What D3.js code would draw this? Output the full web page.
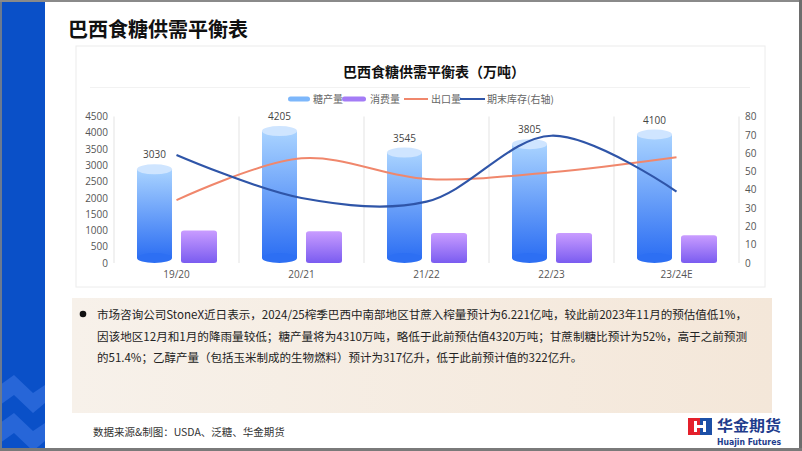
<!DOCTYPE html>
<html><head><meta charset="utf-8">
<script src="https://cdn.jsdelivr.net/npm/d3@7"></script>
<style>
html,body{margin:0;padding:0;background:#fff;}
svg{display:block;font-family:"Noto Sans CJK SC","Noto Sans",sans-serif;}
</style></head>
<body>
<svg id="c" width="802" height="451"></svg>
<script>
// ---- data ----
const categories = ["19/20", "20/21", "21/22", "22/23", "23/24E"];
const production = [3030, 4205, 3545, 3805, 4100];
const consumption = [1000, 975, 920, 920, 850];
const exports_ = [1930, 3215, 2580, 2790, 3250];
const endingStocks = [59, 35.5, 33.5, 69.5, 39];
const leftTicks = [0, 500, 1000, 1500, 2000, 2500, 3000, 3500, 4000, 4500];
const rightTicks = [0, 10, 20, 30, 40, 50, 60, 70, 80];
const seriesNames = ["糖产量", "消费量", "出口量", "期末库存(右轴)"];
const pageTitle = "巴西食糖供需平衡表";
const chartTitle = "巴西食糖供需平衡表（万吨）";
const bodyLines = [
  "市场咨询公司StoneX近日表示，2024/25榨季巴西中南部地区甘蔗入榨量预计为6.221亿吨，较此前2023年11月的预估值低1%，",
  "因该地区12月和1月的降雨量较低；糖产量将为4310万吨，略低于此前预估值4320万吨；甘蔗制糖比预计为52%，高于之前预测",
  "的51.4%；乙醇产量（包括玉米制成的生物燃料）预计为317亿升，低于此前预计值的322亿升。"
];
const sourceText = "数据来源&制图：USDA、泛糖、华金期货";

const svg = d3.select("#c");
const defs = svg.append("defs");

// gradients
const g1 = defs.append("linearGradient").attr("id","gProd").attr("x1",0).attr("y1",0).attr("x2",0).attr("y2",1);
g1.append("stop").attr("offset","0%").attr("stop-color","#a9d3ff");
g1.append("stop").attr("offset","100%").attr("stop-color","#2d6ff3");
const g2 = defs.append("linearGradient").attr("id","gCons").attr("x1",0).attr("y1",0).attr("x2",0).attr("y2",1);
g2.append("stop").attr("offset","0%").attr("stop-color","#c99cff");
g2.append("stop").attr("offset","100%").attr("stop-color","#7a5cf0");
const g3 = defs.append("linearGradient").attr("id","gBox").attr("x1",0).attr("y1",0).attr("x2",1).attr("y2",0);
g3.append("stop").attr("offset","0%").attr("stop-color","#f7f1ea");
g3.append("stop").attr("offset","100%").attr("stop-color","#f4e7d9");

// ---- page frame ----
svg.append("rect").attr("x",0).attr("y",0).attr("width",802).attr("height",451).attr("fill","#fff");
svg.append("rect").attr("x",0).attr("y",0).attr("width",45).attr("height",451).attr("fill","#0a50c8");
// chevrons
const chev = (y0) => `M0,${y0+10} L14,${y0} L33,${y0+18} L45,${y0+10} L45,${y0+28} L33,${y0+38} L14,${y0+20} L0,${y0+30} Z`;
svg.append("path").attr("d",chev(375)).attr("fill","#2766d8");
svg.append("path").attr("d",chev(413)).attr("fill","#2766d8");
svg.append("rect").attr("x",0).attr("y",0).attr("width",2).attr("height",451).attr("fill","#6b7a90");
svg.append("rect").attr("x",0).attr("y",0).attr("width",802).attr("height",2).attr("fill","#8a8a8a");
svg.append("rect").attr("x",799).attr("y",0).attr("width",3).attr("height",451).attr("fill","#6d6d6d");
svg.append("rect").attr("x",0).attr("y",448).attr("width",802).attr("height",3).attr("fill","#7a7a7a");

svg.append("text").attr("x",68).attr("y",37).attr("font-size",20).attr("font-weight","bold").attr("fill","#111").text(pageTitle);

// chart container
svg.append("rect").attr("x",76).attr("y",46).attr("width",689).attr("height",241).attr("fill","#fff").attr("stroke","#ececec").attr("stroke-width",1);

svg.append("text").attr("x",434).attr("y",77).attr("text-anchor","middle").attr("font-size",14).attr("font-weight","bold").attr("fill","#111").text(chartTitle);
svg.append("line").attr("x1",90).attr("x2",750).attr("y1",87.5).attr("y2",87.5).attr("stroke","#f2f2f2");

// ---- scales ----
const x = d3.scaleBand().domain(categories).range([114, 739]).paddingInner(0).paddingOuter(0);
const yL = d3.scaleLinear().domain([0, 4500]).range([263, 116.5]);
const yR = d3.scaleLinear().domain([0, 80]).range([263, 116.5]);
const cx = c => x(c) + x.bandwidth()/2;

// dividers
const gridXs = [x.range()[0]].concat(categories.slice(1).map(c => x(c))).concat([x.range()[1]]);
svg.append("g").selectAll("line").data(gridXs).join("line")
  .attr("x1",d=>d).attr("x2",d=>d).attr("y1",yL(4500)).attr("y2",yL(0))
  .attr("stroke","#e3e3e3").attr("stroke-width",1);

// axes
const axL = svg.append("g").attr("transform","translate(114,0)")
  .call(d3.axisLeft(yL).tickValues(leftTicks).tickFormat(d3.format("d")).tickSize(0).tickPadding(6));
axL.select(".domain").remove();
axL.selectAll("text").attr("font-size",10).attr("fill","#555").attr("font-family","'Open Sans','Noto Sans',sans-serif");
const axR = svg.append("g").attr("transform","translate(739,0)")
  .call(d3.axisRight(yR).tickValues(rightTicks).tickFormat(d3.format("d")).tickSize(0).tickPadding(6));
axR.select(".domain").remove();
axR.selectAll("text").attr("font-size",10).attr("fill","#555").attr("font-family","'Open Sans','Noto Sans',sans-serif");
const axB = svg.append("g").attr("transform","translate(0,263)")
  .call(d3.axisBottom(x).tickSize(0).tickPadding(6));
axB.select(".domain").remove();
axB.selectAll("text").attr("font-size",10).attr("fill","#555").attr("dy","0.9em").attr("font-family","'Open Sans','Noto Sans',sans-serif");

// production cylinders
const pw = 35, ry = 5;
const prod = svg.append("g").selectAll("g").data(categories).join("g");
prod.append("rect")
  .attr("x",(c)=>cx(c)-22-pw/2).attr("width",pw)
  .attr("y",(c,i)=>yL(production[i])+ry).attr("height",(c,i)=>yL(0)-ry-(yL(production[i])+ry))
  .attr("fill","url(#gProd)");
prod.append("ellipse").attr("cx",c=>cx(c)-22).attr("cy",yL(0)-ry).attr("rx",pw/2).attr("ry",ry).attr("fill","#2d6ff3");
prod.append("ellipse").attr("cx",c=>cx(c)-22).attr("cy",(c,i)=>yL(production[i])+ry).attr("rx",pw/2).attr("ry",ry).attr("fill","#cfe5ff");
prod.append("text").attr("x",c=>cx(c)-22).attr("y",(c,i)=>yL(production[i])-6)
  .attr("text-anchor","middle").attr("font-size",10).attr("fill","#444")
  .attr("font-family","'Open Sans','Noto Sans',sans-serif").text((c,i)=>production[i]);

// consumption bars
const cw = 36;
svg.append("g").selectAll("rect").data(categories).join("rect")
  .attr("x",c=>cx(c)+22.5-cw/2).attr("width",cw)
  .attr("y",(c,i)=>yL(consumption[i])).attr("height",(c,i)=>yL(0)-yL(consumption[i]))
  .attr("rx",3).attr("ry",2.5).attr("fill","url(#gCons)");

// lines
const lineL = d3.line().x((d,i)=>cx(categories[i])).y(d=>yL(d)).curve(d3.curveCatmullRom.alpha(0.5));
const lineR = d3.line().x((d,i)=>cx(categories[i])).y(d=>yR(d)).curve(d3.curveCatmullRom.alpha(0.5));
svg.append("path").datum(exports_).attr("d",lineL).attr("fill","none").attr("stroke","#f0876c").attr("stroke-width",2);
svg.append("path").datum(endingStocks).attr("d",lineR).attr("fill","none").attr("stroke","#2f55a8").attr("stroke-width",2.2);

// legend
const lg = svg.append("g").attr("font-size",10).attr("fill","#666");
lg.append("rect").attr("x",288).attr("y",96.5).attr("width",22).attr("height",5).attr("rx",2.5).attr("fill","#7db7fb");
lg.append("text").attr("x",313).attr("y",102.5).attr("fill","#666").text(seriesNames[0]);
lg.append("rect").attr("x",342).attr("y",96.5).attr("width",24).attr("height",5).attr("rx",2.5).attr("fill","#a47cf6");
lg.append("text").attr("x",370).attr("y",102.5).attr("fill","#666").text(seriesNames[1]);
lg.append("line").attr("x1",404).attr("x2",428).attr("y1",99).attr("y2",99).attr("stroke","#f0876c").attr("stroke-width",2);
lg.append("text").attr("x",431).attr("y",102.5).attr("fill","#666").text(seriesNames[2]);
lg.append("line").attr("x1",460).attr("x2",485).attr("y1",99).attr("y2",99).attr("stroke","#2f55a8").attr("stroke-width",2);
lg.append("text").attr("x",487).attr("y",102.5).attr("fill","#666").text(seriesNames[3]);

// text box
svg.append("rect").attr("x",72).attr("y",298).attr("width",700).attr("height",115).attr("fill","url(#gBox)");
svg.append("circle").attr("cx",83).attr("cy",314).attr("r",3.3).attr("fill","#111");
const lens = [650, 650, null];
svg.append("g").selectAll("text").data(bodyLines).join("text")
  .attr("x",97).attr("y",(d,i)=>319 + i*21.5)
  .attr("font-size",11.5).attr("fill","#222")
  .each(function(d,i){ if(lens[i]) d3.select(this).attr("textLength",lens[i]).attr("lengthAdjust","spacingAndGlyphs"); })
  .text(d=>d);

svg.append("text").attr("x",93).attr("y",436).attr("font-size",10.5).attr("fill","#333").text(sourceText);

// logo
const lo = svg.append("g");
lo.append("rect").attr("x",688).attr("y",418).attr("width",12).attr("height",17).attr("fill","#e4202b");
lo.append("rect").attr("x",700).attr("y",418).attr("width",12).attr("height",17).attr("fill","#1c4fa6");
lo.append("path").attr("d","M694,421 L697,421 L697,425 L703,425 L703,421 L706,421 L706,432 L703,432 L703,428 L697,428 L697,432 L694,432 Z").attr("fill","#fff");
lo.append("text").attr("x",717).attr("y",431).attr("font-size",14.5).attr("font-weight","bold").attr("fill","#1e3c8c").attr("textLength",64).attr("lengthAdjust","spacingAndGlyphs").text("华金期货");
lo.append("text").attr("x",717).attr("y",444.5).attr("font-size",8).attr("font-weight","bold").attr("fill","#1e3c8c").attr("font-family","'DejaVu Sans',sans-serif").attr("textLength",64).attr("lengthAdjust","spacingAndGlyphs").text("Huajin Futures");
</script>
</body></html>
